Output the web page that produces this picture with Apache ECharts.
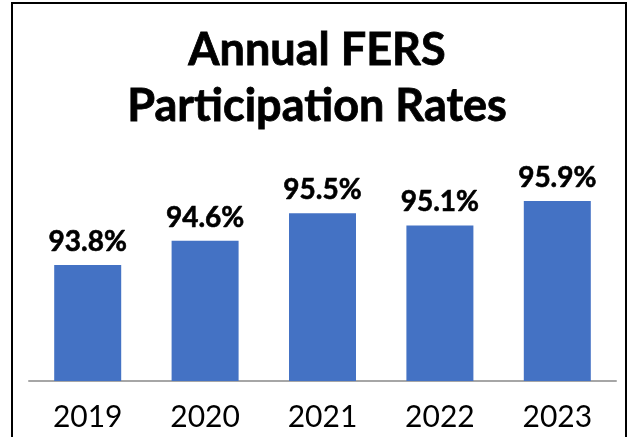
<!DOCTYPE html>
<html>
<head>
<meta charset="utf-8">
<script src="https://cdn.jsdelivr.net/npm/echarts@6/dist/echarts.min.js"></script>
<style>
  html, body { margin: 0; padding: 0; background: #fff; }
  #main { width: 634px; height: 437px; }
</style>
</head>
<body>
<div id="main"></div>
<script>
// chart data
var years = ['2019', '2020', '2021', '2022', '2023'];
var rates = [93.8, 94.6, 95.5, 95.1, 95.9];

var myChart = echarts.init(document.getElementById('main'));

var option = {
    animation: false,
    title: {
        text: 'Annual FERS\nParticipation Rates',
        left: 'center',
        top: 17,
        textStyle: {
            fontFamily: 'Lato',
            fontWeight: 'bold',
            fontSize: 45,
            lineHeight: 56,
            color: '#000',
            textBorderColor: '#000',
            textBorderWidth: 0.8
        }
    },
    graphic: [{
        type: 'rect',
        shape: { x: 12, y: 3, width: 614, height: 460 },
        style: { fill: 'none', stroke: '#000', lineWidth: 2 }
    }],
    grid: { left: 29, right: 18, top: 76, bottom: 56 },
    xAxis: {
        type: 'category',
        data: years,
        axisLine: { lineStyle: { color: '#a6a6a6', width: 2 } },
        axisTick: { show: false },
        axisLabel: {
            margin: 21,
            fontFamily: 'Lato',
            fontSize: 30,
            color: '#000'
        }
    },
    yAxis: {
        type: 'value',
        min: 90,
        max: 100,
        show: false,
        splitLine: { show: false }
    },
    series: [{
        type: 'bar',
        data: rates,
        barWidth: 67,
        itemStyle: { color: '#4472c4' },
        label: {
            show: true,
            position: 'top',
            distance: 9,
            formatter: '{c}%',
            fontFamily: 'Lato',
            fontWeight: 'bold',
            fontSize: 28,
            color: '#000',
            textBorderColor: '#000',
            textBorderWidth: 0.6
        }
    }]
};

myChart.setOption(option);
</script>
</body>
</html>
